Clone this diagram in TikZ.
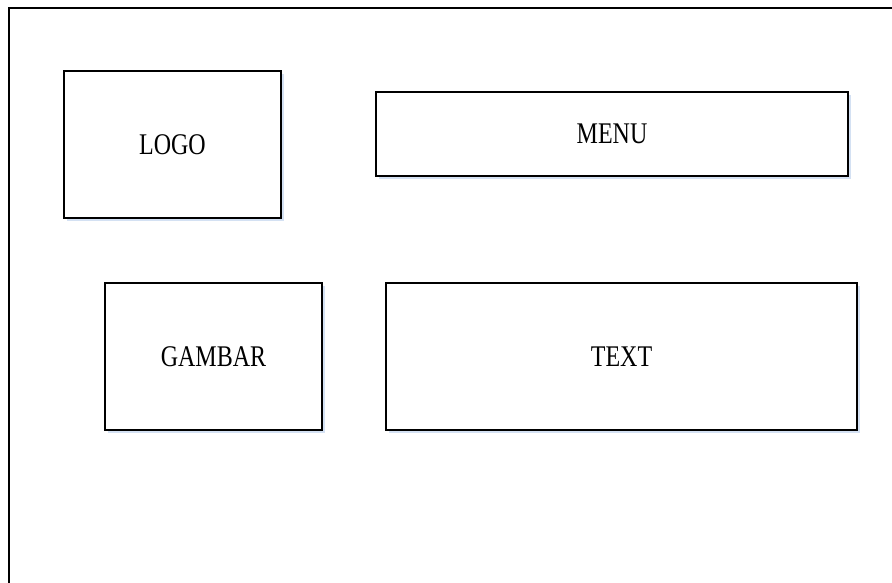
\documentclass[tikz,border=0pt]{standalone}
\usepackage{fontspec}
\usepackage{graphicx}
\setmainfont{Liberation Serif}
\usetikzlibrary{shadows}

\definecolor{shadowblue}{RGB}{212,225,243}

% tall letters, as in the layout sketch
\newcommand{\boxlabel}[1]{\scalebox{1}[1.25]{#1}}

\tikzset{
    layoutbox/.style={draw, line width=1.8pt, fill=white, inner sep=0pt, outer sep=0pt,
        font=\fontsize{24}{28}\selectfont,
        drop shadow={fill=shadowblue, opacity=1, shadow xshift=2.5pt, shadow yshift=-3pt}}
}

\begin{document}
\begin{tikzpicture}[x=1pt, y=-1pt]

        % Page area
        \useasboundingbox (0,0) rectangle (892,582);
        \draw[line width=1.8pt] (9,600) -- (9,8) -- (900,8);

        % Top row
        \node[layoutbox, minimum width=217pt, minimum height=147pt] (logo) at (172.5,144.5) {\boxlabel{LOGO}};
        \node[layoutbox, minimum width=472pt, minimum height=84pt] (menu) at (612,134) {\boxlabel{MENU}};

        % Second row
        \node[layoutbox, minimum width=217pt, minimum height=147pt] (gambar) at (213.5,356.5) {\boxlabel{GAMBAR}};
        \node[layoutbox, minimum width=471pt, minimum height=147pt] (text) at (621.5,356.5) {\boxlabel{TEXT}};

    \end{tikzpicture}
\end{document}
